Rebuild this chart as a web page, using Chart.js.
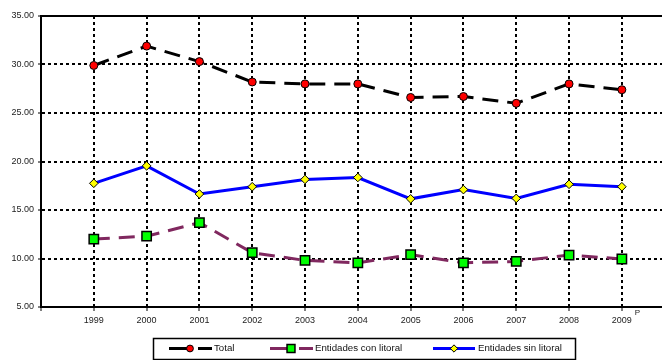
<!DOCTYPE html>
<html><head><meta charset="utf-8">
<script src="https://cdn.jsdelivr.net/npm/chart.js@4/dist/chart.umd.min.js"></script>
<style>html,body{margin:0;padding:0;background:#fff}#wrap{width:662px;height:360px}</style>
</head><body><div id="wrap"><canvas id="c" width="662" height="360"></canvas></div>
<script>
const years = ['1999','2000','2001','2002','2003','2004','2005','2006','2007','2008','2009'];
const yTicks = [5, 10, 15, 20, 25, 30, 35];
const total = [29.9, 31.9, 30.3, 28.2, 28.0, 28.0, 26.6, 26.7, 26.0, 28.0, 27.4];
const conLitoral = [12.0, 12.3, 13.7, 10.6, 9.8, 9.55, 10.4, 9.55, 9.7, 10.35, 9.95];
const sinLitoral = [17.75, 19.55, 16.65, 17.4, 18.15, 18.35, 16.15, 17.1, 16.2, 17.65, 17.4];
const seriesNames = ['Total', 'Entidades con litoral', 'Entidades sin litoral'];
const lastYearNote = 'P';

const FONT = '"Liberation Sans", Arial, sans-serif';
const toXY = arr => arr.map((v, i) => ({x: Number(years[i]), y: v}));

const styles = [
  {color: '#000000', dash: [16, 9], pointStyle: 'circle', radius: 4, fill: '#ff0000', bw: 1},
  {color: '#80285f', dash: [16, 9], pointStyle: 'rect', radius: 6.6, fill: '#00ff00', bw: 1.5},
  {color: '#0000ff', dash: [], pointStyle: 'rectRot', radius: 4.3, fill: '#ffff00', bw: 1}
];
const seriesData = [total, conLitoral, sinLitoral];

const datasets = seriesData.map((d, i) => ({
  label: seriesNames[i],
  data: toXY(d),
  borderColor: styles[i].color,
  borderWidth: 3,
  borderDash: styles[i].dash,
  pointStyle: styles[i].pointStyle,
  pointRadius: styles[i].radius,
  pointBackgroundColor: styles[i].fill,
  pointBorderColor: '#000',
  pointBorderWidth: styles[i].bw,
  tension: 0,
  fill: false
}));

const extras = {
  id: 'extras',
  afterDraw(chart) {
    const {ctx, chartArea: a, scales: {x}} = chart;
    ctx.save();
    ctx.setLineDash([]);
    ctx.strokeStyle = '#000';
    ctx.lineWidth = 2;
    ctx.beginPath(); ctx.moveTo(a.left - 1, a.top); ctx.lineTo(a.right, a.top); ctx.stroke();

    ctx.fillStyle = '#222';
    ctx.font = '8px ' + FONT;
    ctx.textAlign = 'left'; ctx.textBaseline = 'middle';
    ctx.fillText(lastYearNote, x.getPixelForValue(Number(years[years.length - 1])) + 13, 313);

    // legend box
    ctx.lineWidth = 1.5;
    ctx.strokeStyle = '#000';
    ctx.strokeRect(153.5, 338.5, 422, 21);
    const xs = [169, 270, 433];
    const ly = 348.5;
    seriesNames.forEach((name, i) => {
      const st = styles[i];
      const x0 = xs[i];
      ctx.strokeStyle = st.color;
      ctx.lineWidth = 3;
      ctx.setLineDash([]);
      ctx.beginPath();
      if (st.dash.length) {
        ctx.moveTo(x0, ly); ctx.lineTo(x0 + 24, ly);
        ctx.moveTo(x0 + 29, ly); ctx.lineTo(x0 + 43, ly);
      } else {
        ctx.moveTo(x0, ly); ctx.lineTo(x0 + 42, ly);
      }
      ctx.stroke();
      ctx.fillStyle = st.fill;
      ctx.strokeStyle = '#000';
      ctx.lineWidth = st.bw;
      Chart.helpers.drawPoint(ctx, {pointStyle: st.pointStyle, rotation: 0, radius: st.radius * 0.85, borderWidth: st.bw}, x0 + 21, ly);
      ctx.fillStyle = '#111';
      ctx.font = '9.7px ' + FONT;
      ctx.textAlign = 'left'; ctx.textBaseline = 'middle';
      ctx.fillText(name, x0 + 45, ly - 0.5);
    });
    ctx.restore();
  }
};

new Chart(document.getElementById('c'), {
  type: 'line',
  data: {datasets},
  plugins: [extras],
  options: {
    responsive: false,
    devicePixelRatio: 1,
    animation: false,
    layout: {autoPadding: false, padding: {top: 16, left: 0, right: 0, bottom: 0}},
    plugins: {legend: {display: false}, tooltip: {enabled: false}},
    scales: {
      x: {
        type: 'linear',
        min: Number(years[0]) - 1,
        max: Number(years[years.length - 1]) + 0.76,
        afterFit: s => { s.height = 53; s.paddingLeft = 0; s.paddingRight = 0; },
        afterBuildTicks: s => { s.ticks = [Number(years[0]) - 1].concat(years.map(Number)).map(v => ({value: v})); },
        grid: {color: '#000', lineWidth: 2, drawTicks: true, tickLength: 4, tickColor: '#000', tickWidth: 1, tickBorderDash: []},
        border: {display: true, color: '#000', width: 2, dash: [3, 3]},
        ticks: {
          font: {family: FONT, size: 9}, color: '#222', padding: 4, maxRotation: 0, autoSkip: false,
          callback: v => { const i = years.indexOf(String(v)); return i >= 0 ? years[i] : ''; }
        }
      },
      y: {
        min: yTicks[0], max: yTicks[yTicks.length - 1],
        afterFit: s => { s.width = 41; s.paddingTop = 0; s.paddingBottom = 0; },
        afterBuildTicks: s => { s.ticks = yTicks.map(v => ({value: v})); },
        grid: {color: '#000', lineWidth: 2, drawTicks: true, tickLength: 3, tickColor: '#000', tickWidth: 1, tickBorderDash: []},
        border: {display: true, color: '#000', width: 2, dash: [3, 3]},
        ticks: {font: {family: FONT, size: 9}, color: '#222', padding: 4, callback: v => Number(v).toFixed(2)}
      }
    }
  }
});
</script></body></html>
